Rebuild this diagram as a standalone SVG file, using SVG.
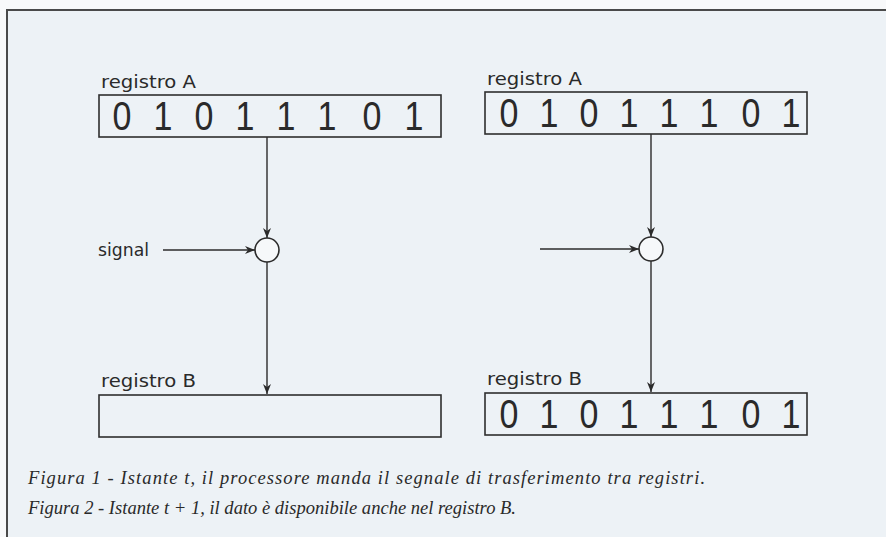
<svg xmlns="http://www.w3.org/2000/svg" width="886" height="537" viewBox="0 0 886 537">
  <defs>
    <marker id="arrow" viewBox="0 0 10 10" refX="10" refY="5" markerWidth="10" markerHeight="10" markerUnits="userSpaceOnUse" orient="auto">
      <path d="M0,1 L10,5 L0,9 L3,5 Z" fill="#2b2b2b"/>
    </marker>
  </defs>
  <style>
    .frame { fill: #edf2f6; stroke: #4a4a4a; stroke-width: 2; }
    .reg { fill: none; stroke: #2e2e2e; stroke-width: 1.6; }
    .label { font-family: "DejaVu Sans", sans-serif; font-size: 18px; fill: #2a2a2a; }
    .bits { font-family: "Liberation Sans", sans-serif; font-size: 40px; fill: #2a2a2a; text-anchor: middle; }
    .wire { fill: none; stroke: #2b2b2b; stroke-width: 1.4; }
    .gate { fill: #f6f8fa; stroke: #2b2b2b; stroke-width: 1.6; }
    .caption { font-family: "Liberation Serif", serif; font-style: italic; font-size: 18.5px; fill: #2a2a2a; }
  </style>

  <!-- page and figure frame -->
  <rect x="0" y="0" width="886" height="537" fill="#f8f9fa"/>
  <rect class="frame" x="7" y="10" width="890" height="540"/>

  <!-- connectors -->
  <g id="connectors">
    <line class="wire" x1="267" y1="137" x2="267" y2="238" marker-end="url(#arrow)"/>
    <line class="wire" x1="163" y1="250" x2="255" y2="250" marker-end="url(#arrow)"/>
    <line class="wire" x1="267" y1="262" x2="267" y2="394" marker-end="url(#arrow)"/>
    <line class="wire" x1="651" y1="134" x2="651" y2="237" marker-end="url(#arrow)"/>
    <line class="wire" x1="540" y1="249" x2="639" y2="249" marker-end="url(#arrow)"/>
    <line class="wire" x1="651" y1="261" x2="651" y2="392" marker-end="url(#arrow)"/>
  </g>

  <!-- time t: register A -->
  <g id="regA-t">
    <text class="label" x="101" y="88" textLength="95" lengthAdjust="spacingAndGlyphs">registro A</text>
    <rect class="reg" x="99" y="95" width="342" height="42"/>
    <!-- digits condensed horizontally (x positions given in scaled units) -->
    <text class="bits" y="130" transform="scale(0.85,1)"><tspan x="143.5">0</tspan><tspan x="191.8">1</tspan><tspan x="240">0</tspan><tspan x="288.2">1</tspan><tspan x="336.5">1</tspan><tspan x="384.7">1</tspan><tspan x="437.6">0</tspan><tspan x="487">1</tspan></text>
  </g>

  <!-- time t: transfer gate with signal -->
  <g id="gate-t">
    <circle class="gate" cx="267" cy="250" r="12"/>
    <text class="label" x="98" y="256" textLength="51" lengthAdjust="spacingAndGlyphs">signal</text>
  </g>

  <!-- time t: register B (empty) -->
  <g id="regB-t">
    <text class="label" x="101" y="387" textLength="95" lengthAdjust="spacingAndGlyphs">registro B</text>
    <rect class="reg" x="99" y="395" width="342" height="42"/>
  </g>

  <!-- time t+1: register A -->
  <g id="regA-t1">
    <text class="label" x="487" y="85" textLength="95" lengthAdjust="spacingAndGlyphs">registro A</text>
    <rect class="reg" x="485" y="92" width="322" height="42"/>
    <text class="bits" y="127" transform="scale(0.85,1)"><tspan x="598.8">0</tspan><tspan x="645.9">1</tspan><tspan x="692.9">0</tspan><tspan x="740">1</tspan><tspan x="787">1</tspan><tspan x="834.1">1</tspan><tspan x="883.5">0</tspan><tspan x="930.6">1</tspan></text>
  </g>

  <!-- time t+1: transfer gate -->
  <g id="gate-t1">
    <circle class="gate" cx="651" cy="249" r="12"/>
  </g>

  <!-- time t+1: register B (loaded) -->
  <g id="regB-t1">
    <text class="label" x="487" y="385" textLength="95" lengthAdjust="spacingAndGlyphs">registro B</text>
    <rect class="reg" x="485" y="393" width="322" height="42"/>
    <text class="bits" y="428" transform="scale(0.85,1)"><tspan x="598.8">0</tspan><tspan x="645.9">1</tspan><tspan x="692.9">0</tspan><tspan x="740">1</tspan><tspan x="787">1</tspan><tspan x="834.1">1</tspan><tspan x="883.5">0</tspan><tspan x="930.6">1</tspan></text>
  </g>

  <!-- captions -->
  <g id="captions">
    <text class="caption" x="28" y="484" textLength="677" lengthAdjust="spacing">Figura 1 - Istante t, il processore manda il segnale di trasferimento tra registri.</text>
    <text class="caption" x="28" y="514" textLength="488" lengthAdjust="spacingAndGlyphs">Figura 2 - Istante t + 1, il dato è disponibile anche nel registro B.</text>
  </g>
</svg>
